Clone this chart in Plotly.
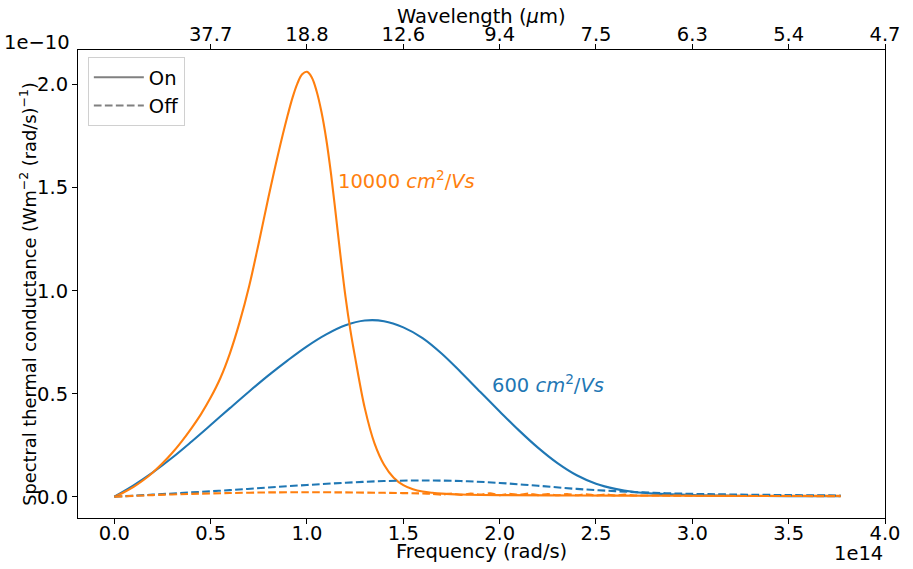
import plotly.graph_objects as go

# Frequency in units of 1e14 rad/s, conductance in units of 1e-10 W m^-2 (rad/s)^-1

# 10000 cm^2/Vs, bias on
f_hi_on = [0.00, 0.05, 0.10, 0.15, 0.20, 0.25, 0.30, 0.35, 0.40, 0.45, 0.50, 0.55, 0.60,
           0.65, 0.70, 0.75, 0.80, 0.85, 0.90, 0.925, 0.95, 0.975, 1.00, 1.025, 1.05,
           1.075, 1.10, 1.125, 1.15, 1.175, 1.20, 1.225, 1.25, 1.30, 1.35, 1.40, 1.45,
           1.50, 1.55, 1.60, 1.65, 1.70, 1.80, 2.00, 2.40, 2.80, 3.20, 3.77]
g_hi_on = [0.000, 0.022, 0.048, 0.080, 0.118, 0.162, 0.212, 0.269, 0.332, 0.401, 0.481,
           0.575, 0.696, 0.846, 1.023, 1.233, 1.453, 1.662, 1.852, 1.937, 2.005, 2.050,
           2.062, 2.035, 1.968, 1.868, 1.735, 1.565, 1.365, 1.160, 0.970, 0.810, 0.675,
           0.430, 0.260, 0.155, 0.092, 0.056, 0.036, 0.025, 0.019, 0.015, 0.011, 0.008,
           0.006, 0.005, 0.004, 0.004]

# 600 cm^2/Vs, bias on
f_lo_on = [0.0, 0.1, 0.2, 0.3, 0.4, 0.5, 0.6, 0.7, 0.8, 0.9, 1.0, 1.1, 1.2, 1.3, 1.4,
           1.5, 1.6, 1.7, 1.8, 1.9, 2.0, 2.1, 2.2, 2.3, 2.4, 2.5, 2.6, 2.7, 2.8, 3.0,
           3.2, 3.5, 3.77]
g_lo_on = [0.000, 0.055, 0.118, 0.189, 0.267, 0.348, 0.430, 0.511, 0.589, 0.662, 0.730,
           0.788, 0.832, 0.855, 0.852, 0.822, 0.770, 0.694, 0.603, 0.508, 0.414, 0.322,
           0.237, 0.163, 0.104, 0.063, 0.038, 0.023, 0.015, 0.008, 0.005, 0.003, 0.002]

# 600 cm^2/Vs, bias off
f_lo_off = [0.0, 0.2, 0.4, 0.6, 0.8, 1.0, 1.2, 1.4, 1.6, 1.8, 2.0, 2.2, 2.4, 2.6, 2.8,
            3.0, 3.2, 3.5, 3.77]
g_lo_off = [0.000, 0.010, 0.021, 0.032, 0.045, 0.057, 0.068, 0.076, 0.079, 0.076, 0.067,
            0.053, 0.038, 0.027, 0.019, 0.014, 0.011, 0.008, 0.006]

# 10000 cm^2/Vs, bias off
f_hi_off = [0.00, 0.20, 0.40, 0.60, 0.80, 1.00, 1.20, 1.40, 1.60, 1.65, 1.70, 1.75, 1.80,
            1.85, 1.90, 1.95, 2.00, 2.05, 2.10, 2.15, 2.20, 2.25, 2.30, 2.35, 2.40, 2.45,
            2.50, 2.55, 2.60, 2.65, 2.70, 2.80, 3.20, 3.77]
g_hi_off = [0.000, 0.008, 0.014, 0.018, 0.021, 0.022, 0.021, 0.019, 0.016, 0.014, 0.010,
            0.016, 0.009, 0.015, 0.010, 0.017, 0.008, 0.014, 0.009, 0.015, 0.008, 0.013,
            0.007, 0.013, 0.007, 0.012, 0.006, 0.011, 0.006, 0.010, 0.006, 0.006, 0.004,
            0.003]

# Top axis: wavelength labels at these frequencies
wl_tick_freq = [0.5, 1.0, 1.5, 2.0, 2.5, 3.0, 3.5, 4.0]
wl_tick_text = ["37.7", "18.8", "12.6", "9.4", "7.5", "6.3", "5.4", "4.7"]

BLUE = "#1f77b4"
ORANGE = "#ff7f0e"
FONT = "DejaVu Sans"
FS = 19.5
LW = 2.1
DASH = "7.7px,3.3px"

fig = go.Figure()
fig.add_trace(go.Scatter(x=f_lo_on, y=g_lo_on, mode="lines", showlegend=False,
                         line=dict(color=BLUE, width=LW, shape="spline", smoothing=1.0)))
fig.add_trace(go.Scatter(x=f_hi_on, y=g_hi_on, mode="lines", showlegend=False,
                         line=dict(color=ORANGE, width=LW, shape="spline", smoothing=1.0)))
fig.add_trace(go.Scatter(x=f_lo_off, y=g_lo_off, mode="lines", showlegend=False,
                         line=dict(color=BLUE, width=LW, dash=DASH, shape="spline", smoothing=1.0)))
fig.add_trace(go.Scatter(x=f_hi_off, y=g_hi_off, mode="lines", showlegend=False,
                         line=dict(color=ORANGE, width=LW, dash=DASH, shape="spline", smoothing=0.6)))

# Legend entries for line style only
fig.add_trace(go.Scatter(x=[None], y=[None], mode="lines", name="On", xaxis="x2",
                         line=dict(color="gray", width=LW)))
fig.add_trace(go.Scatter(x=[None], y=[None], mode="lines", name="Off", xaxis="x2",
                         line=dict(color="gray", width=LW, dash=DASH)))

xr = [-0.1885, 4.0]
yr = [-0.1032, 2.168]
axis_common = dict(showgrid=False, zeroline=False, showline=True, linecolor="#000",
                   linewidth=1, ticks="outside", ticklen=5, tickwidth=1, tickcolor="#000",
                   tickfont=dict(family=FONT, size=FS, color="#000"))

fig.update_layout(
    width=913, height=569,
    margin=dict(l=78, r=17, t=50, b=51),
    paper_bgcolor="white", plot_bgcolor="white",
    font=dict(family=FONT, size=FS, color="#000"),
    xaxis=dict(range=xr, tickvals=[0, 0.5, 1.0, 1.5, 2.0, 2.5, 3.0, 3.5, 4.0],
               tickformat=".1f", mirror=True, ticklabelstandoff=-7, **axis_common),
    xaxis2=dict(range=xr, overlaying="x", side="top", anchor="y", ticklabelstandoff=-5,
                tickvals=wl_tick_freq, ticktext=wl_tick_text, **axis_common),
    yaxis=dict(range=yr, tickvals=[0, 0.5, 1.0, 1.5, 2.0], tickformat=".1f",
               mirror=True, **axis_common),
    legend=dict(x=0.0122, y=0.985, xanchor="left", yanchor="top",
                bgcolor="rgba(255,255,255,0.8)", bordercolor="#d0d0d0", borderwidth=1,
                font=dict(family=FONT, size=FS, color="#000"), tracegroupgap=0,
                itemwidth=50),
    annotations=[
        dict(text="10000 <i>cm</i><sup>2</sup>/<i>Vs</i>", x=1.15, y=1.535, xref="x", yref="y",
             xanchor="left", yanchor="middle", showarrow=False,
             font=dict(family=FONT, size=FS, color=ORANGE)),
        dict(text="600 <i>cm</i><sup>2</sup>/<i>Vs</i>", x=1.952, y=0.545, xref="x", yref="y",
             xanchor="left", yanchor="middle", showarrow=False,
             font=dict(family=FONT, size=FS, color=BLUE)),
        dict(text="Frequency (rad/s)", x=0.5, y=-0.072, xref="paper", yref="paper",
             xanchor="center", yanchor="middle", showarrow=False),
        dict(text="Wavelength (<i>\u03bc</i>m)", x=0.5, y=1.072, xref="paper", yref="paper",
             xanchor="center", yanchor="middle", showarrow=False),
        dict(text="Spectral thermal conductance (Wm<sup>\u22122</sup> (rad/s)<sup>\u22121</sup>)",
             x=-0.062, y=0.479, xref="paper", yref="paper", textangle=-90,
             xanchor="center", yanchor="middle", showarrow=False,
             font=dict(family=FONT, size=17.8, color="#000")),
        dict(text="1e\u221210", x=-0.007, y=1.017, xref="paper", yref="paper",
             xanchor="right", yanchor="middle", showarrow=False),
        dict(text="1e14", x=1.0, y=-0.075, xref="paper", yref="paper",
             xanchor="right", yanchor="middle", showarrow=False),
    ],
)

fig.write_html("out.html")
